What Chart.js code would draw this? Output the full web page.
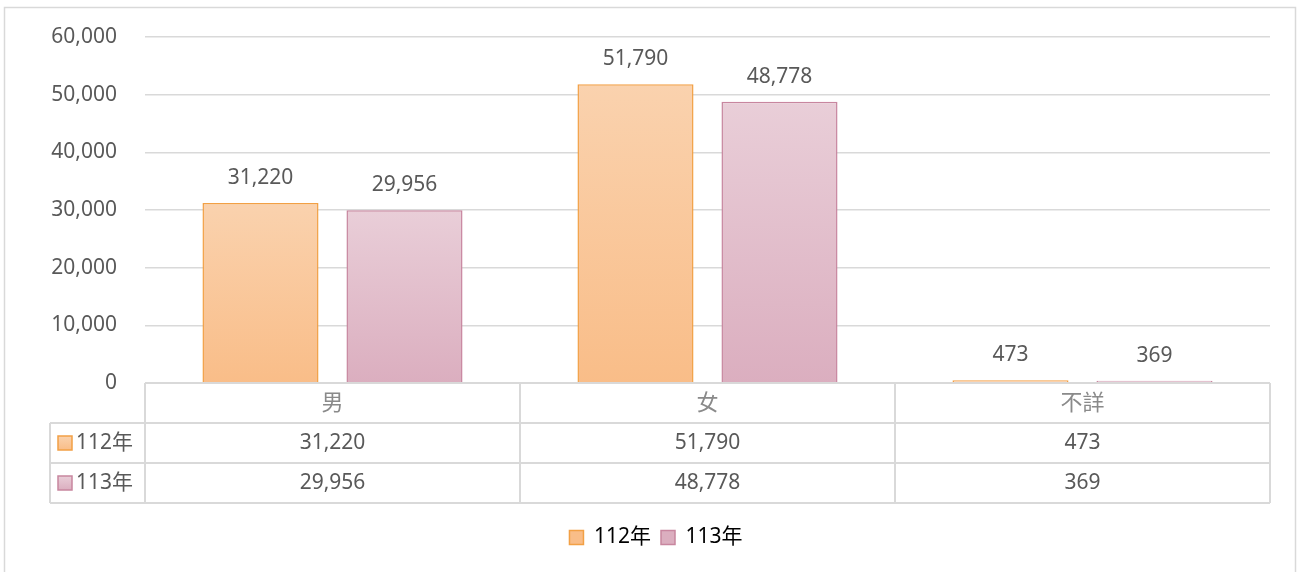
<!DOCTYPE html>
<html>
<head>
<meta charset="utf-8">
<script src="https://cdn.jsdelivr.net/npm/chart.js@4.4.0/dist/chart.umd.min.js"></script>
<style>
  html, body { margin: 0; padding: 0; background: #fff; }
  #wrap { width: 1300px; height: 572px; position: relative; }
</style>
</head>
<body>
<div id="wrap"><canvas id="sexChart"></canvas></div>
<script>
const categories = ['男', '女', '不詳'];
const seriesNames = ['112年', '113年'];
const values112 = [31220, 51790, 473];
const values113 = [29956, 48778, 369];
const yTicks = [0, 10000, 20000, 30000, 40000, 50000, 60000];

const FONT = '"Noto Sans", "Noto Sans CJK TC", sans-serif';
const TEXT = '#595959';
const LINE = '#d9d9d9';
const fills = [
  { top: '#fad2ae', bottom: '#f9bd88', border: '#f2a045' },
  { top: '#e9ced8', bottom: '#dbaebf', border: '#c8869f' }
];
const seriesValues = [values112, values113];

function fmt(v) { return v.toLocaleString('en-US'); }

// vertical gradient per bar, from its top down to the zero line
function barGradient(i) {
  return function(c) {
    const chart = c.chart;
    const y = chart.scales.y;
    if (!chart.chartArea || !y || c.raw == null) return fills[i].bottom;
    const top = y.getPixelForValue(c.raw);
    const base = y.getPixelForValue(0);
    if (!isFinite(top) || base - top < 1) return fills[i].bottom;
    const g = chart.ctx.createLinearGradient(0, top, 0, base);
    g.addColorStop(0, fills[i].top);
    g.addColorStop(1, fills[i].bottom);
    return g;
  };
}

// outer frame
const framePlugin = {
  id: 'frame',
  beforeDraw(chart) {
    const ctx = chart.ctx;
    ctx.save();
    ctx.strokeStyle = LINE;
    ctx.lineWidth = 1.5;
    ctx.strokeRect(4.5, 7.5, 1291, 600);
    ctx.restore();
  }
};

// value labels over the bars
const valueLabels = {
  id: 'valueLabels',
  afterDatasetsDraw(chart) {
    const ctx = chart.ctx;
    ctx.save();
    ctx.font = '21px ' + FONT;
    ctx.fillStyle = TEXT;
    ctx.textAlign = 'center';
    ctx.textBaseline = 'middle';
    chart.data.datasets.forEach((ds, di) => {
      chart.getDatasetMeta(di).data.forEach((el, i) => {
        ctx.fillText(fmt(ds.data[i]), el.x, el.y - 25);
      });
    });
    ctx.restore();
  }
};

// data table under the plot
const dataTable = {
  id: 'dataTable',
  afterDraw(chart) {
    const ctx = chart.ctx;
    const area = chart.chartArea;
    const x = chart.scales.x;
    const rowH = 40;
    const top = area.bottom;
    const labelLeft = 50;
    const n = categories.length;
    const colW = (area.right - area.left) / n;

    ctx.save();
    ctx.strokeStyle = LINE;
    ctx.lineWidth = 2;
    ctx.beginPath();
    // horizontal lines
    ctx.moveTo(area.left, top); ctx.lineTo(area.right, top);
    for (let r = 1; r <= 3; r++) {
      ctx.moveTo(labelLeft, top + r * rowH); ctx.lineTo(area.right, top + r * rowH);
    }
    // vertical lines
    for (let c = 0; c <= n; c++) {
      const cx = area.left + c * colW;
      ctx.moveTo(cx, top); ctx.lineTo(cx, top + 3 * rowH);
    }
    ctx.moveTo(labelLeft, top + rowH); ctx.lineTo(labelLeft, top + 3 * rowH);
    ctx.stroke();

    ctx.textAlign = 'center';
    ctx.textBaseline = 'middle';
    ctx.font = '22px ' + FONT;
    ctx.fillStyle = '#8a8a8a';
    categories.forEach((cat, i) => {
      ctx.fillText(cat, x.getPixelForTick(i), top + rowH / 2 + 1);
    });

    ctx.font = '21px ' + FONT;
    ctx.fillStyle = TEXT;
    seriesValues.forEach((vals, s) => {
      const cy = top + (s + 1) * rowH + rowH / 2;
      vals.forEach((v, i) => {
        ctx.textAlign = 'center';
        ctx.fillText(fmt(v), x.getPixelForTick(i), cy);
      });
      // legend key
      const grd = ctx.createLinearGradient(0, cy - 7, 0, cy + 7);
      grd.addColorStop(0, fills[s].top);
      grd.addColorStop(1, fills[s].bottom);
      ctx.fillStyle = grd;
      ctx.fillRect(58, cy - 7, 14, 14);
      ctx.strokeStyle = fills[s].border;
      ctx.lineWidth = 1.5;
      ctx.strokeRect(58, cy - 7, 14, 14);
      ctx.fillStyle = TEXT;
      ctx.textAlign = 'left';
      ctx.fillText(seriesNames[s], 76, cy);
    });
    ctx.restore();
  }
};

new Chart(document.getElementById('sexChart'), {
  type: 'bar',
  data: {
    labels: categories,
    datasets: [
      {
        label: seriesNames[0],
        data: values112,
        backgroundColor: barGradient(0),
        borderColor: fills[0].border,
        borderWidth: 1.5,
        categoryPercentage: 0.768,
        barPercentage: 0.806
      },
      {
        label: seriesNames[1],
        data: values113,
        backgroundColor: barGradient(1),
        borderColor: fills[1].border,
        borderWidth: 1.5,
        categoryPercentage: 0.768,
        barPercentage: 0.806
      }
    ]
  },
  options: {
    responsive: true,
    maintainAspectRatio: false,
    animation: false,
    layout: { padding: { top: 37, left: 42, right: 30, bottom: 14 } },
    scales: {
      x: {
        ticks: { display: false },
        grid: { display: false },
        border: { display: false },
        afterFit(scale) { scale.height = 134; }
      },
      y: {
        min: 0,
        max: 60000,
        afterBuildTicks(scale) { scale.ticks = yTicks.map(v => ({ value: v })); },
        ticks: {
          padding: 28,
          color: TEXT,
          font: { family: FONT, size: 21 },
          callback: v => fmt(v)
        },
        grid: { color: LINE, lineWidth: 1.5, drawTicks: false },
        border: { display: false },
        afterFit(scale) {
          scale.width = 103;
          scale.paddingTop = 0;
          scale.paddingBottom = 0;
        }
      }
    },
    plugins: {
      legend: {
        position: 'bottom',
        labels: {
          color: TEXT,
          font: { family: FONT, size: 21 },
          boxWidth: 14,
          boxHeight: 14,
          padding: 10,
          generateLabels() {
            return seriesNames.map((name, i) => ({
              text: name,
              fillStyle: fills[i].bottom,
              strokeStyle: fills[i].border,
              lineWidth: 1.5,
              datasetIndex: i
            }));
          }
        }
      },
      tooltip: { enabled: false }
    }
  },
  plugins: [framePlugin, valueLabels, dataTable]
});
</script>
</body>
</html>
